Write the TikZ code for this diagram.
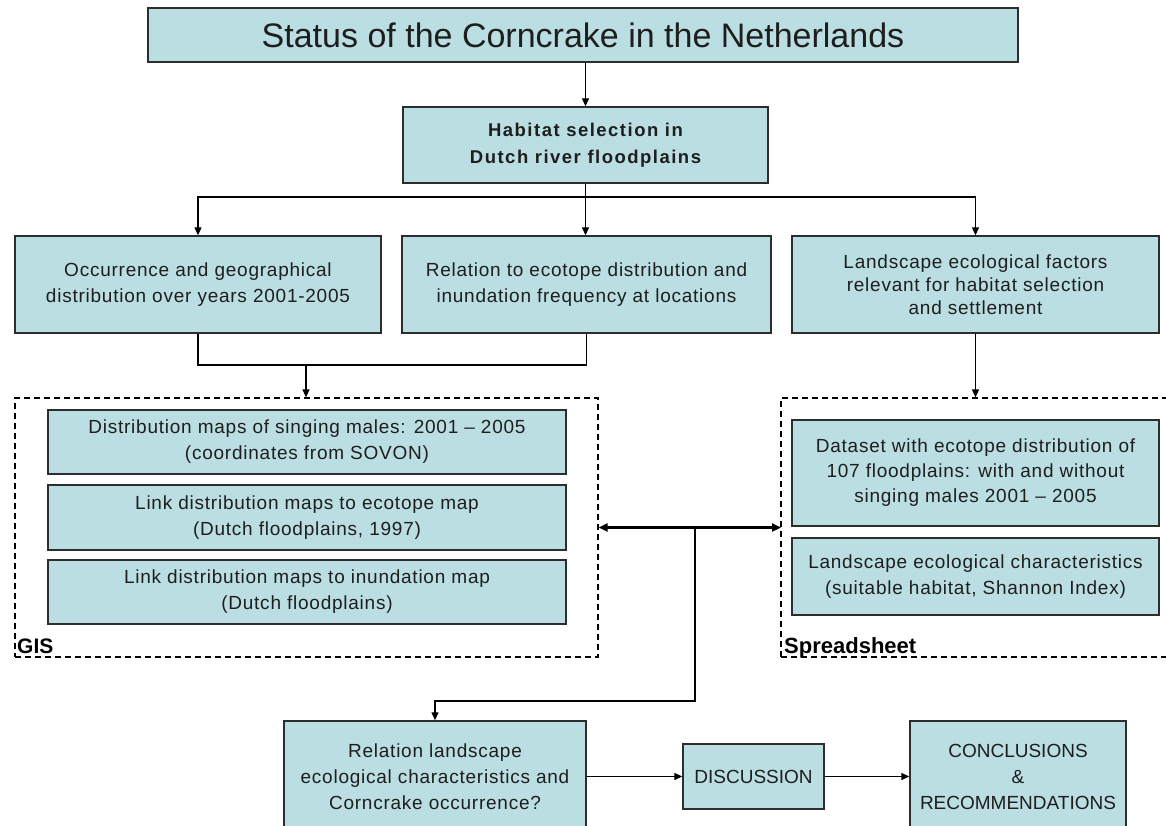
\documentclass[tikz,border=0pt]{standalone}
\usepackage{fontspec}
\setmainfont{Liberation Sans}
\newfontfamily\bodyfont{Liberation Sans}[LetterSpace=4]
\newfontfamily\habfont{Liberation Sans}[LetterSpace=8]
\usetikzlibrary{arrows.meta}
\definecolor{boxfill}{RGB}{186,222,226}
\definecolor{boxline}{RGB}{45,45,45}
\definecolor{txt}{RGB}{30,30,30}
\begin{document}
\begin{tikzpicture}[x=1pt,y=-1pt,
  box/.style={draw=boxline, fill=boxfill, line width=1.4pt, align=center, inner sep=0pt,
              font=\bodyfont\fontsize{19}{26}\selectfont, text=txt},
  capsbox/.style={box, font=\normalfont\fontsize{19}{26}\selectfont},
  dbox/.style={draw=black, dash pattern=on 6pt off 4pt, line width=1.2pt, inner sep=0pt},
  conn/.style={draw=black, line width=1.3pt},
  arr/.style={conn, -{Triangle[length=8pt,width=7pt]}},
  darr/.style={draw=black, line width=2.2pt, {Triangle[length=9pt,width=8pt]}-{Triangle[length=9pt,width=8pt]}},
  lab/.style={font=\bfseries\fontsize{21}{21}\selectfont, inner sep=0pt, anchor=base west, text=black}]
\useasboundingbox (0,0) rectangle (1166,826);
\fill[white] (0,0) rectangle (1166,826);
\clip (0,0) rectangle (1166,826);

% top
\node[box, minimum width=870pt, minimum height=54pt, font=\normalfont\fontsize{34}{36}\selectfont] (title) at (583,35)
  {Status of the Corncrake in the Netherlands};
\node[box, minimum width=365pt, minimum height=76pt, font=\habfont\bfseries\fontsize{18.5}{27}\selectfont] (hab) at (585.5,145)
  {Habitat selection in\\Dutch river floodplains};

% second row
\node[box, minimum width=366pt, minimum height=97pt] (b1) at (198,284.5)
  {Occurrence and geographical\\distribution over years 2001-2005};
\node[box, minimum width=369pt, minimum height=97pt] (b2) at (586.5,284.5)
  {Relation to ecotope distribution and\\inundation frequency at locations};
\node[box, minimum width=367pt, minimum height=97pt, font=\bodyfont\fontsize{19}{23}\selectfont] (b3) at (975.5,284.5)
  {Landscape ecological factors\\relevant for habitat selection\\and settlement};

% GIS group
\node[dbox, minimum width=583pt, minimum height=259pt] (gis) at (306.5,527.5) {};
\node[box, minimum width=518pt, minimum height=64pt] (ga) at (307,442)
  {Distribution maps of singing males: 2001 – 2005\\(coordinates from SOVON)};
\node[box, minimum width=518pt, minimum height=65pt] (gb) at (307,517.5)
  {Link distribution maps to ecotope map\\(Dutch floodplains, 1997)};
\node[box, minimum width=518pt, minimum height=64pt] (gc) at (307,592)
  {Link distribution maps to inundation map\\(Dutch floodplains)};
\node[lab] (gislab) at (17,653) {GIS};

% Spreadsheet group
\node[dbox, minimum width=399pt, minimum height=259pt] (ss) at (980.5,527.5) {};
\node[box, minimum width=367pt, minimum height=106pt, font=\bodyfont\fontsize{19}{25}\selectfont] (sa) at (975.5,473)
  {Dataset with ecotope distribution of\\107 floodplains: with and without\\singing males 2001 – 2005};
\node[box, minimum width=367pt, minimum height=77pt] (sb) at (975.5,576.5)
  {Landscape ecological characteristics\\(suitable habitat, Shannon Index)};
\node[lab, font=\bfseries\fontsize{22}{22}\selectfont] (sslab) at (784,653) {Spreadsheet};

% bottom row
\node[box, minimum width=302pt, minimum height=112pt] (r1) at (435,777)
  {Relation landscape\\ecological characteristics and\\Corncrake occurrence?};
\node[capsbox, minimum width=141pt, minimum height=65pt] (disc) at (753.5,776.5) {DISCUSSION};
\node[capsbox, minimum width=216pt, minimum height=112pt] (concl) at (1018,777)
  {CONCLUSIONS\\\&\\RECOMMENDATIONS};

% connectors
\draw[arr] (hab.north |- title.south) -- (hab.north);
\coordinate (sp) at (585.5,197);
\draw[conn] (hab.south) -- (sp);
\draw[arr] (sp) -| (b1.north);
\draw[arr] (sp) -| (b3.north);
\draw[arr] (sp) -- (sp |- b2.north);

\coordinate (j1) at (306,365);
\draw[conn] (b1.south) |- (j1) -| (b2.south);
\draw[arr] (j1) -- (j1 |- gis.north);

\draw[arr] (b3.south) -- (b3.south |- ss.north);

\coordinate (ssw) at (781,527.5);
\draw[darr] (gis.east) -- (ssw);
\coordinate (j2) at (695,527.5);
\coordinate (j3) at (695,701);
\draw[arr] (j2) -- (j3) -| (r1.north);

\draw[arr] (r1.east |- disc.west) -- (disc.west);
\draw[arr] (disc.east) -- (disc.east -| concl.west);
\end{tikzpicture}
\end{document}
